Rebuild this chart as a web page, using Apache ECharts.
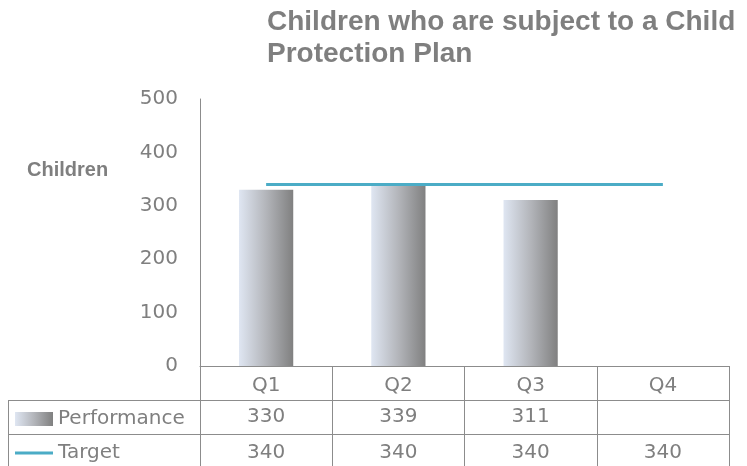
<!DOCTYPE html>
<html>
<head>
<meta charset="utf-8">
<script src="https://cdn.jsdelivr.net/npm/echarts@6/dist/echarts.min.js"></script>
<style>
  html, body { margin: 0; padding: 0; background: #fff; }
  #chart1 { width: 747px; height: 466px; }
</style>
</head>
<body>
<div id="chart1"></div>
<script>
var categories = ['Q1', 'Q2', 'Q3', 'Q4'];
var performance = [330, 339, 311, null];
var target = [340, 340, 340, 340];
var yTicks = [0, 100, 200, 300, 400, 500];

var grey = '#7f7f7f';
var lineGrey = '#8c8c8c';
var font = 'DejaVu Sans, sans-serif';
var boldFont = 'Liberation Sans, Arial, sans-serif';

function cell(arr) {
    return function (v, i) {
        return arr[i] == null ? '' : String(arr[i]);
    };
}

// each row of the data table is one extra category axis under the grid
function tableAxis(offset, tickLen, labels, margin) {
    return {
        type: 'category',
        data: categories,
        position: 'bottom',
        offset: offset,
        axisLine: { show: true, lineStyle: { color: lineGrey, width: 1 } },
        axisTick: { show: true, length: tickLen, lineStyle: { color: lineGrey } },
        axisLabel: {
            color: grey, fontSize: 20, fontFamily: font, margin: margin,
            formatter: labels
        },
        splitLine: { show: false }
    };
}

var chart = echarts.init(document.getElementById('chart1'));

var option = {
    animation: false,
    textStyle: { fontFamily: font },
    title: [{
        text: 'Children who are subject to a Child\nProtection Plan',
        left: 262, top: 1,
        textStyle: { color: grey, fontSize: 28, fontWeight: 'bold', lineHeight: 32, fontFamily: boldFont }
    }, {
        text: 'Children',
        left: 22, top: 155,
        textStyle: { color: grey, fontSize: 20, fontWeight: 'bold', fontFamily: boldFont }
    }],
    grid: { left: 200, right: 18, top: 99, bottom: 100 },
    legend: {
        orient: 'vertical',
        left: 15, top: 409,
        padding: 0,
        itemWidth: 38, itemHeight: 14,
        itemGap: 14,
        symbolKeepAspect: true,
        textStyle: { color: grey, fontSize: 20, lineHeight: 20, fontFamily: font },
        data: [
            { name: 'Performance', icon: 'rect' },
            { name: 'Target', icon: 'path://M0,0H40V3H0Z' }
        ]
    },
    xAxis: [
        tableAxis(0, 34, function (v) { return v; }, 10),
        tableAxis(34, 34, cell(performance), 7),
        tableAxis(68, 32, cell(target), 9)
    ],
    yAxis: {
        type: 'value',
        min: yTicks[0],
        max: yTicks[yTicks.length - 1],
        interval: 100,
        axisLine: { show: true, lineStyle: { color: lineGrey } },
        axisTick: { show: false },
        splitLine: { show: false },
        axisLabel: { color: grey, fontSize: 20, fontFamily: font, margin: 22 }
    },
    series: [{
        name: 'Performance',
        type: 'bar',
        data: performance,
        barWidth: '41%',
        itemStyle: {
            color: new echarts.graphic.LinearGradient(0, 0, 1, 0, [
                { offset: 0, color: '#dfe6f2' },
                { offset: 0.5, color: '#b3b5ba' },
                { offset: 1, color: '#808080' }
            ])
        }
    }, {
        name: 'Target',
        type: 'line',
        data: target,
        symbol: 'none',
        lineStyle: { color: '#4bacc6', width: 3 },
        itemStyle: { color: '#4bacc6' }
    }],
    // left column of the data table
    graphic: [
        { type: 'line', shape: { x1: 8, y1: 400.5, x2: 200, y2: 400.5 }, style: { stroke: lineGrey, lineWidth: 1 } },
        { type: 'line', shape: { x1: 8, y1: 434.5, x2: 200, y2: 434.5 }, style: { stroke: lineGrey, lineWidth: 1 } },
        { type: 'line', shape: { x1: 8.5, y1: 400, x2: 8.5, y2: 466 }, style: { stroke: lineGrey, lineWidth: 1 } }
    ]
};

chart.setOption(option);
</script>
</body>
</html>
